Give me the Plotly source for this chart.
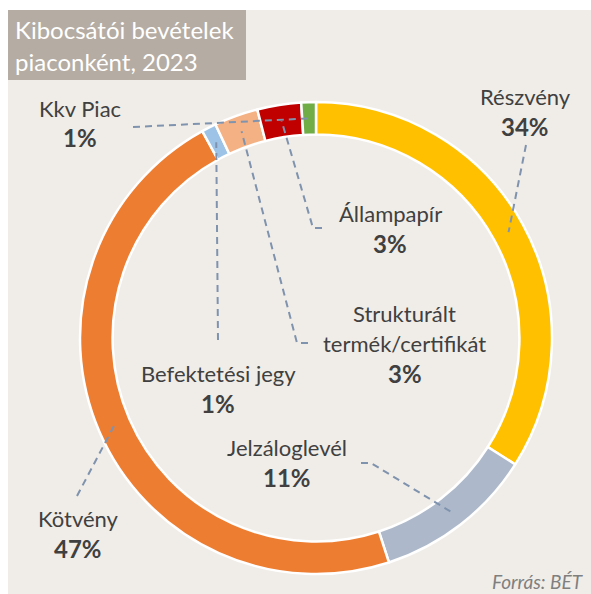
import math
import plotly.graph_objects as go

# page size in pixels
W, H = 591, 594

# data
categories = ["Részvény", "Jelzáloglevél", "Kötvény", "Befektetési jegy",
              "Strukturált termék/certifikát", "Állampapír", "Kkv Piac"]
shares = [34, 11, 47, 1, 3, 3, 1]
label_lines = [["Részvény"], ["Jelzáloglevél"], ["Kötvény"], ["Befektetési jegy"],
               ["Strukturált", "termék/certifikát"], ["Állampapír"], ["Kkv Piac"]]
slice_colors = ["#FFC000", "#ADB9CA", "#ED7D31", "#9DC3E6", "#F4B183", "#C00000", "#70AD47"]

title_lines = ["Kibocsátói bevételek", "piaconként, 2023"]
source_text = "Forrás: BÉT"

# layout (pixels)
cx, cy = 316, 338
r_out = 236
hole = 0.862
r_mid = r_out * (1 + hole) / 2

# label centre (x, y of first text line) and leader-line waypoints near the label
label_pos = [(525, 97), (287, 447), (78, 518), (218, 373), (405, 313), (390, 213), (80, 108)]
leader_pts = [
    [(526, 145)],
    [(361, 463), (371, 463)],
    [(77, 496)],
    [(218, 340)],
    [(308, 343), (297, 343)],
    [(322, 228), (313, 228)],
    [(133, 127)],
]
line_step = 30

BG = "#F0EDE8"
TEXT = "#404040"
LEADER = "#7F93AE"
FONT = "Lato"


def px(x, y):
    """Pixel position -> paper coordinates (margins are zero)."""
    return x / W, 1 - y / H


fig = go.Figure(go.Pie(
    labels=categories,
    values=shares,
    sort=False,
    direction="clockwise",
    rotation=0,
    hole=hole,
    marker=dict(colors=slice_colors, line=dict(color="#FFFFFF", width=2.5)),
    textinfo="none",
    hoverinfo="label+percent",
    showlegend=False,
    domain=dict(x=[(cx - r_out) / W, (cx + r_out) / W],
                y=[1 - (cy + r_out) / H, 1 - (cy - r_out) / H]),
))

shapes = []
annotations = []

# background panel and title box
x0, y0 = px(8, 10)
shapes.append(dict(type="rect", xref="paper", yref="paper", x0=x0, y0=0, x1=1, y1=y0,
                   fillcolor=BG, line=dict(width=0), layer="below"))
bx0, by0 = px(8, 10)
bx1, by1 = px(246, 80)
shapes.append(dict(type="rect", xref="paper", yref="paper", x0=bx0, y0=by1, x1=bx1, y1=by0,
                   fillcolor="#B5ACA3", line=dict(width=0), layer="below"))
for i, t in enumerate(title_lines):
    tx, ty = px(13, 30 + i * 31)
    annotations.append(dict(text=t, x=tx, y=ty, xref="paper", yref="paper",
                            xanchor="left", yanchor="middle", showarrow=False,
                            font=dict(family=FONT, size=24, color="#FFFFFF")))

# labels + leader lines
total = sum(shares)
cum = 0
for i, v in enumerate(shares):
    mid = (cum + v / 2) / total * 2 * math.pi
    cum += v
    sx = cx + r_mid * math.sin(mid)
    sy = cy - r_mid * math.cos(mid)

    pts = leader_pts[i] + [(sx, sy)]
    path = ""
    for j, (lx, ly) in enumerate(pts):
        p = px(lx, ly)
        path += ("M" if j == 0 else " L") + f"{p[0]:.5f},{p[1]:.5f}"
    shapes.append(dict(type="path", xref="paper", yref="paper", path=path,
                       line=dict(color=LEADER, width=2, dash="7px,5px"), layer="above"))

    lx, ly = label_pos[i]
    lines = label_lines[i]
    for k, t in enumerate(lines):
        ax, ay = px(lx, ly + k * line_step)
        annotations.append(dict(text=t, x=ax, y=ay, xref="paper", yref="paper",
                                xanchor="center", yanchor="middle", showarrow=False,
                                font=dict(family=FONT, size=22, color=TEXT)))
    ax, ay = px(lx, ly + len(lines) * line_step)
    annotations.append(dict(text=f"<b>{v}%</b>", x=ax, y=ay, xref="paper", yref="paper",
                            xanchor="center", yanchor="middle", showarrow=False,
                            font=dict(family=FONT, size=24, color=TEXT)))

sx_, sy_ = px(586, 581)
annotations.append(dict(text=f"<i>{source_text}</i>", x=sx_, y=sy_, xref="paper", yref="paper",
                        xanchor="right", yanchor="middle", showarrow=False,
                        font=dict(family=FONT, size=19, color="#7F7F7F")))

fig.update_layout(
    width=W, height=H,
    margin=dict(l=0, r=0, t=0, b=0),
    paper_bgcolor="#FFFFFF",
    plot_bgcolor="#FFFFFF",
    shapes=shapes,
    annotations=annotations,
)

# drop the default body margin so the figure sits at the page origin
fig.write_html("out.html", config={"displayModeBar": False},
               post_script="document.body.style.margin='0';document.body.style.overflow='hidden';")
